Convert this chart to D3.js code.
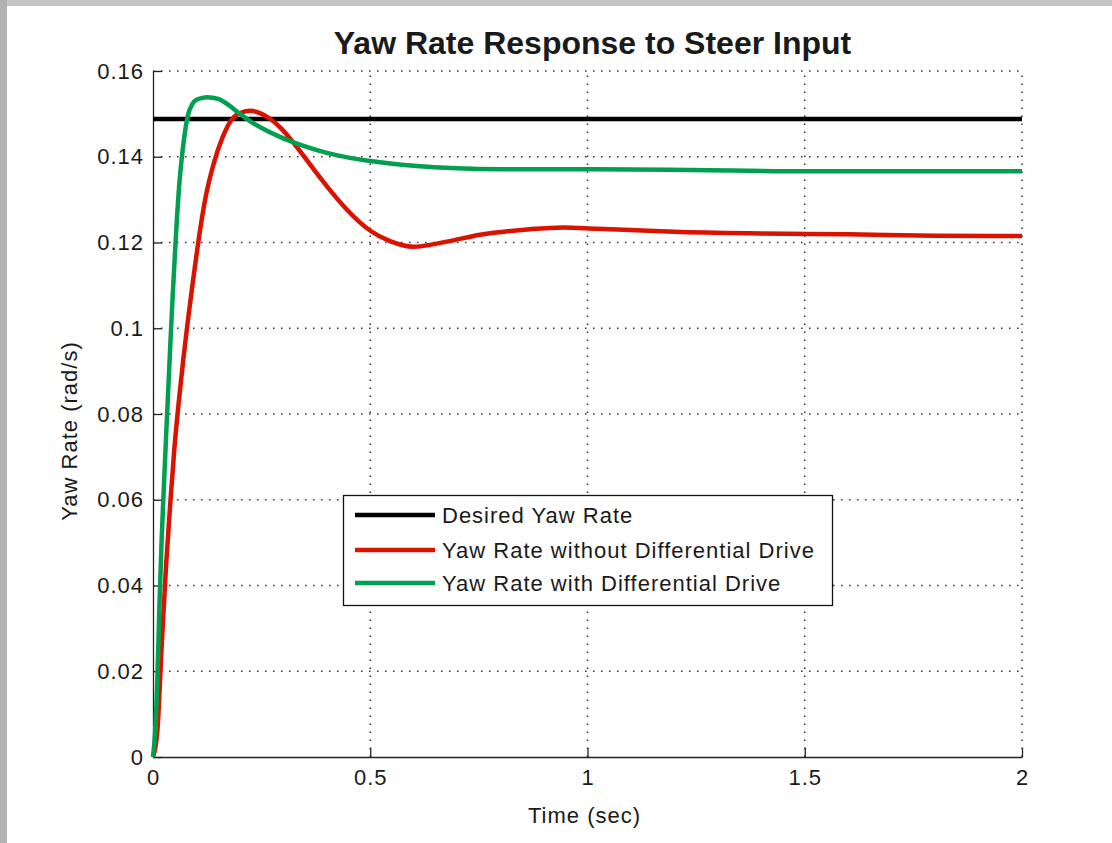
<!DOCTYPE html>
<html>
<head>
<meta charset="utf-8">
<script src="https://cdn.jsdelivr.net/npm/d3@7"></script>
<style>
  body { margin: 0; background: #fff; }
  svg text { font-family: "Liberation Sans", Arial, Helvetica, sans-serif; fill: #1a1a1a; }
</style>
</head>
<body>
<svg id="chart" width="1112" height="843"></svg>
<script>
// Tick values and labels
var xTicks = [0, 0.5, 1, 1.5, 2];
var xTickLabels = ["0", "0.5", "1", "1.5", "2"];
var yTicks = [0, 0.02, 0.04, 0.06, 0.08, 0.1, 0.12, 0.14, 0.16];
var yTickLabels = ["0", "0.02", "0.04", "0.06", "0.08", "0.1", "0.12", "0.14", "0.16"];

// Desired yaw rate (constant)
var desiredTime = [0, 2];
var desiredRate = [0.1488, 0.1488];

// Yaw rate without differential drive
var noDiffTime = [0, 0.01, 0.02, 0.03, 0.04, 0.05, 0.06, 0.07, 0.08, 0.09,
                  0.10, 0.11, 0.12, 0.14, 0.16, 0.18, 0.20, 0.225, 0.25, 0.27,
                  0.296, 0.3268, 0.369, 0.4074, 0.4458, 0.4994, 0.5455, 0.599, 0.676, 0.7526,
                  0.8677, 0.9443, 1.021, 1.1, 1.2, 1.4, 1.6, 1.8, 2.0];
var noDiffRate = [0, 0.0060, 0.0260, 0.0445, 0.0595, 0.0730, 0.0835, 0.0930, 0.1015, 0.1095,
                  0.1170, 0.1240, 0.1300, 0.1385, 0.1445, 0.1485, 0.1502, 0.1507, 0.1500, 0.1488,
                  0.1465, 0.1428, 0.1372, 0.1322, 0.1277, 0.1228, 0.1203, 0.1190, 0.1202, 0.1218,
                  0.1231, 0.1235, 0.1232, 0.1229, 0.1225, 0.1221, 0.1219, 0.1216, 0.1215];

// Yaw rate with differential drive
var diffTime = [0, 0.005, 0.01, 0.015, 0.02, 0.025, 0.03, 0.035, 0.04, 0.045,
                0.05, 0.055, 0.06, 0.065, 0.07, 0.075, 0.08, 0.09, 0.10, 0.125,
                0.15, 0.175, 0.20, 0.225, 0.25, 0.30, 0.35, 0.40, 0.45, 0.50,
                0.60, 0.70, 0.80, 1.0, 1.236, 1.5, 2.0];
var diffRate = [0, 0.0060, 0.0180, 0.0360, 0.0510, 0.0630, 0.0745, 0.0855, 0.0965, 0.1070,
                0.1165, 0.1255, 0.1330, 0.1385, 0.1430, 0.1467, 0.1495, 0.1522, 0.1533, 0.1539,
                0.1535, 0.1520, 0.1500, 0.1482, 0.1467, 0.1443, 0.1424, 0.1409, 0.1398, 0.1390,
                0.1379, 0.1373, 0.1371, 0.1371, 0.1369, 0.1366, 0.1366];

var seriesNames = ["Desired Yaw Rate", "Yaw Rate without Differential Drive", "Yaw Rate with Differential Drive"];
var seriesColors = ["#000000", "#d91300", "#00a050"];

var svg = d3.select("#chart");

// Window frame edges
svg.append("rect").attr("x", 0).attr("y", 0).attr("width", 1112).attr("height", 6).attr("fill", "#c4c4c4");
svg.append("rect").attr("x", 0).attr("y", 0).attr("width", 7).attr("height", 843).attr("fill", "#b2b2b2");

var plotLeft = 153, plotRight = 1022, plotTop = 71, plotBottom = 757;
var x = d3.scaleLinear().domain([0, 2]).range([plotLeft, plotRight]);
var y = d3.scaleLinear().domain([0, 0.16]).range([plotBottom, plotTop]);

//Dotted grid
var grid = svg.append("g").attr("stroke", "#333").attr("stroke-width", 1.5).attr("stroke-dasharray", "1.5,6.5");
grid.selectAll(".vgrid").data(xTicks.slice(1)).enter().append("line")
    .attr("x1", function(d){ return x(d); }).attr("x2", function(d){ return x(d); })
    .attr("y1", plotBottom).attr("y2", plotTop);
grid.selectAll(".hgrid").data(yTicks.slice(1)).enter().append("line")
    .attr("x1", plotLeft).attr("x2", plotRight)
    .attr("y1", function(d){ return y(d); }).attr("y2", function(d){ return y(d); });

//Axes, ticks pointing inward
var xAxis = d3.axisBottom(x).tickValues(xTicks)
    .tickFormat(function(d, i){ return xTickLabels[i]; })
    .tickSizeInner(-9).tickSizeOuter(0).tickPadding(12);
var yAxis = d3.axisLeft(y).tickValues(yTicks)
    .tickFormat(function(d, i){ return yTickLabels[i]; })
    .tickSizeInner(-9).tickSizeOuter(0).tickPadding(10);

var gx = svg.append("g").attr("transform", "translate(0," + plotBottom + ")").call(xAxis);
var gy = svg.append("g").attr("transform", "translate(" + plotLeft + ",0)").call(yAxis);
[gx, gy].forEach(function(g) {
    g.select(".domain").attr("stroke", "#222").attr("stroke-width", 1.3);
    g.selectAll(".tick line").attr("stroke", "#222").attr("stroke-width", 1.3);
    g.selectAll(".tick text").attr("font-size", 22).attr("letter-spacing", "1px")
     .attr("fill", "#1a1a1a").attr("font-family", null);
});
gy.selectAll(".tick text").attr("dx", "1px");

//Series lines
var line = d3.line()
    .x(function(d){ return x(d[0]); })
    .y(function(d){ return y(d[1]); })
    .curve(d3.curveMonotoneX);

var series = [d3.zip(desiredTime, desiredRate), d3.zip(noDiffTime, noDiffRate), d3.zip(diffTime, diffRate)];
for (var i = 0; i < series.length; i++) {
    svg.append("path").datum(series[i])
       .attr("d", line)
       .attr("fill", "none")
       .attr("stroke", seriesColors[i])
       .attr("stroke-width", 4.5);
}

//Legend
var legend = svg.append("g");
legend.append("rect").attr("x", 343.5).attr("y", 495.5).attr("width", 489).attr("height", 110)
      .attr("fill", "#fff").attr("stroke", "#111").attr("stroke-width", 1.3);
var rowY = [515, 550, 583];
for (var j = 0; j < seriesNames.length; j++) {
    legend.append("line").attr("x1", 355).attr("x2", 435).attr("y1", rowY[j]).attr("y2", rowY[j])
          .attr("stroke", seriesColors[j]).attr("stroke-width", 4.5);
    legend.append("text").attr("x", 442).attr("y", rowY[j]).attr("dy", "0.36em")
          .attr("font-size", 22).attr("letter-spacing", "1px").text(seriesNames[j]);
}

//Titles
svg.append("text").attr("x", (plotLeft + plotRight) / 2 + 5).attr("y", 54).attr("text-anchor", "middle")
   .attr("font-size", 32).attr("font-weight", "bold").text("Yaw Rate Response to Steer Input");
svg.append("text").attr("x", (plotLeft + plotRight) / 2 - 3).attr("y", 823).attr("text-anchor", "middle")
   .attr("font-size", 22).attr("letter-spacing", "1px").text("Time (sec)");
svg.append("text").attr("transform", "translate(77,431) rotate(-90)").attr("text-anchor", "middle")
   .attr("font-size", 22).attr("letter-spacing", "1px").text("Yaw Rate (rad/s)");
</script>
</body>
</html>
